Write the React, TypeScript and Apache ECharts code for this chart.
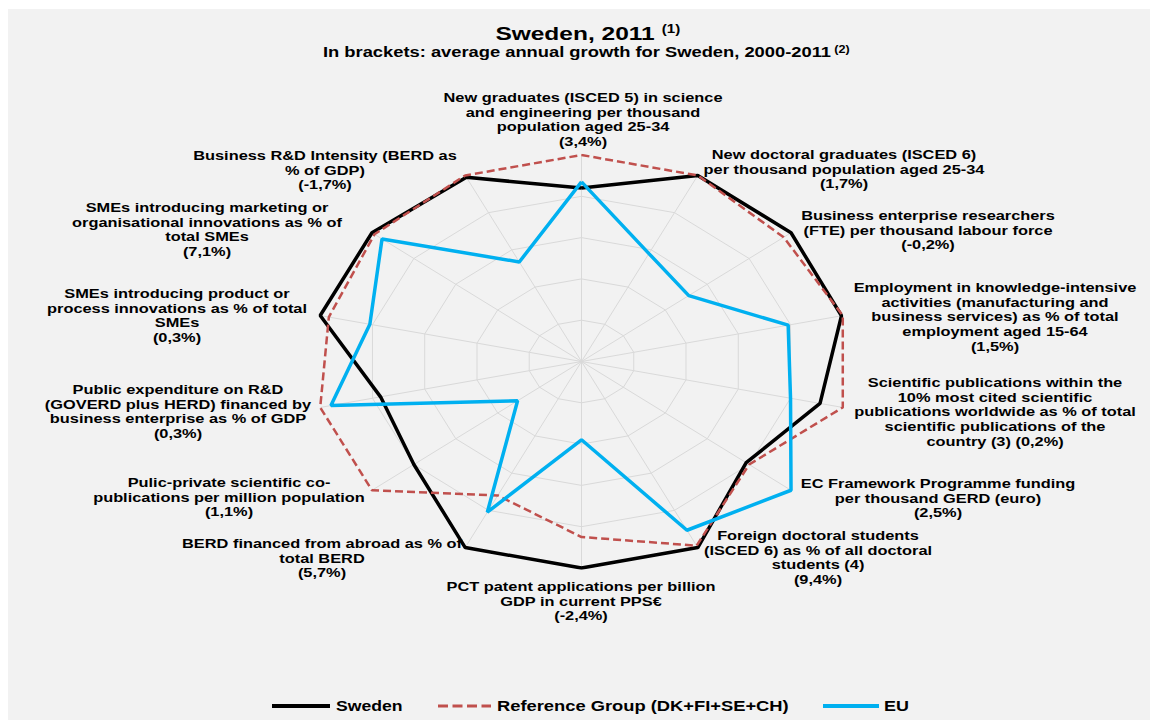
import React, { useEffect, useRef } from "react";
import * as echarts from "echarts";

// Indicator labels, clockwise from the top
const indicators = [
  "New graduates (ISCED 5) in science\nand engineering per thousand\npopulation aged 25-34\n(3,4%)",
  "New doctoral graduates (ISCED 6)\nper thousand population aged 25-34\n(1,7%)",
  "Business enterprise researchers\n(FTE) per thousand labour force\n(-0,2%)",
  "Employment in knowledge-intensive\nactivities (manufacturing and\nbusiness services) as % of total\nemployment aged 15-64\n(1,5%)",
  "Scientific publications within the\n10% most cited scientific\npublications worldwide as % of total\nscientific publications of the\ncountry (3) (0,2%)",
  "EC Framework Programme funding\nper thousand GERD (euro)\n(2,5%)",
  "Foreign doctoral students\n(ISCED 6) as % of all doctoral\nstudents (4)\n(9,4%)",
  "PCT patent applications per billion\nGDP in current PPS\u20ac\n(-2,4%)",
  "BERD financed from abroad as % of\ntotal BERD\n(5,7%)",
  "Pulic-private scientific co-\npublications per million population\n(1,1%)",
  "Public expenditure on R&D\n(GOVERD plus HERD) financed by\nbusiness enterprise as % of GDP\n(0,3%)",
  "SMEs introducing product or\nprocess innovations as % of total\nSMEs\n(0,3%)",
  "SMEs introducing marketing or\norganisational innovations as % of\ntotal SMEs\n(7,1%)",
  "Business R&D Intensity (BERD as\n% of GDP)\n(-1,7%)",
];

const seriesNames = ["Sweden", "Reference Group (DK+FI+SE+CH)", "EU"];
const sweden = [0.84, 1.0, 1.0, 0.995, 0.913, 0.786, 1.0, 1.0, 1.0, 0.8, 0.769, 1.0, 1.0, 0.99];
const referenceGroup = [1.0, 1.0, 0.965, 1.0, 1.0, 0.8, 0.99, 0.85, 0.72, 1.0, 1.0, 0.967, 0.988, 1.0];
const eu = [0.87, 0.58, 0.512, 0.791, 0.8, 1.0, 0.907, 0.379, 0.81, 0.305, 0.959, 0.81, 0.952, 0.535];
const ringLevels = [0.2, 0.4, 0.6, 0.8];
const axisMax = 1;

const titleText = "Sweden, 2011";
const titleNote = "(1)";
const subtitleText = "In brackets: average annual growth for Sweden, 2000-2011";
const subtitleNote = "(2)";

const seriesColors = ["#000000", "#c0504d", "#00b0f0"];

// label anchor positions (page coordinates): [centerX, topY]
const labelPos: [number, number][] = [
  [583, 90],
  [844, 147],
  [928, 208],
  [995, 280],
  [995, 375],
  [938, 476],
  [818, 528],
  [581, 579],
  [322, 536],
  [229, 475],
  [178, 382],
  [177, 286],
  [207, 200],
  [325, 148],
];

const FONT = '"Liberation Sans", Arial, sans-serif';
const SX = 1.26; // horizontal stretch of the original picture

export default function App() {
  const ref = useRef<HTMLDivElement>(null);
  useEffect(() => {
    document.body.style.margin = "0";
    document.documentElement.style.overflow = "hidden";
    document.body.style.overflow = "hidden";
    const chart = echarts.init(ref.current!, null, { renderer: "svg" });
    const N = indicators.length;
    const pt = (r: number, k: number) => [
      r * Math.sin((2 * Math.PI * k) / N),
      r * Math.cos((2 * Math.PI * k) / N),
    ];
    const loop = (vals: number[]) => [...vals.map((v, k) => pt(v, k)), pt(vals[0], 0)];

    const gridSeries: any[] = [];
    ringLevels.forEach((lv) => {
      gridSeries.push({
        type: "line",
        data: loop(new Array(N).fill(lv)),
        symbol: "none",
        silent: true,
        z: 1,
        lineStyle: { color: "#d9d9d9", width: 1 },
      });
    });
    for (let k = 0; k < N; k++) {
      gridSeries.push({
        type: "line",
        data: [[0, 0], pt(axisMax, k)],
        symbol: "none",
        silent: true,
        z: 1,
        lineStyle: { color: "#d9d9d9", width: 1 },
      });
    }

    const txt = (text: string, x: number, y: number, size: number, align: string, sx: number, extra: any = {}) => ({
      type: "text",
      x,
      y,
      scaleX: sx,
      z: 10,
      style: {
        text,
        font: `bold ${size}px ${FONT}`,
        fill: "#000",
        textAlign: align,
        textVerticalAlign: "middle",
        ...extra,
      },
    });

    const graphics: any[] = [
      {
        type: "rect",
        z: -10,
        silent: true,
        shape: { x: 8, y: 9, width: 1200, height: 760 },
        style: { fill: "#f2f2f2" },
      },
      txt(titleText, 575, 34, 19, "center", 1.29),
      txt(titleNote, 671, 29, 12, "center", 1.26),
      txt(subtitleText, 577, 52, 14, "center", 1.31),
      txt(subtitleNote, 842, 49, 10, "center", 1.26),
    ];
    indicators.forEach((t, k) => {
      graphics.push(
        txt(t, labelPos[k][0], labelPos[k][1], 13, "center", SX, {
          lineHeight: 14.8,
          textVerticalAlign: "top",
        })
      );
    });

    // legend
    const legendY = 706;
    const legendItems: { x1: number; x2: number; tx: number; dash?: number[]; w: number; sx: number }[] = [
      { x1: 272, x2: 330, tx: 336, w: 4, sx: 1.26 },
      { x1: 438, x2: 491, tx: 497, dash: [10, 4.5], w: 3, sx: 1.31 },
      { x1: 823, x2: 879, tx: 884, w: 4, sx: 1.28 },
    ];
    legendItems.forEach((it, i) => {
      graphics.push({
        type: "line",
        z: 10,
        shape: { x1: it.x1, y1: legendY, x2: it.x2, y2: legendY },
        style: { stroke: seriesColors[i], lineWidth: it.w, lineDash: it.dash || null },
      });
      graphics.push(txt(seriesNames[i], it.tx, legendY, 14, "left", it.sx));
    });

    chart.setOption({
      animation: false,
      backgroundColor: "#ffffff",
      grid: { left: 313.5, top: 155, width: 536, height: 413 },
      xAxis: { type: "value", min: -axisMax, max: axisMax, show: false },
      yAxis: { type: "value", min: -axisMax, max: axisMax, show: false },
      graphic: graphics,
      series: [
        ...gridSeries,
        {
          name: seriesNames[0],
          type: "line",
          data: loop(sweden),
          symbol: "none",
          z: 3,
          lineStyle: { color: seriesColors[0], width: 3.5 },
          itemStyle: { color: seriesColors[0] },
        },
        {
          name: seriesNames[1],
          type: "line",
          data: loop(referenceGroup),
          symbol: "none",
          z: 4,
          lineStyle: { color: seriesColors[1], width: 2.5, type: [8, 4] },
          itemStyle: { color: seriesColors[1] },
        },
        {
          name: seriesNames[2],
          type: "line",
          data: loop(eu),
          symbol: "none",
          z: 5,
          lineStyle: { color: seriesColors[2], width: 3.5 },
          itemStyle: { color: seriesColors[2] },
        },
      ],
    });
    return () => chart.dispose();
  }, []);
  return (
    <div
      ref={ref}
      style={{ position: "fixed", left: 0, top: 0, width: 1150, height: 720 }}
    />
  );
}
